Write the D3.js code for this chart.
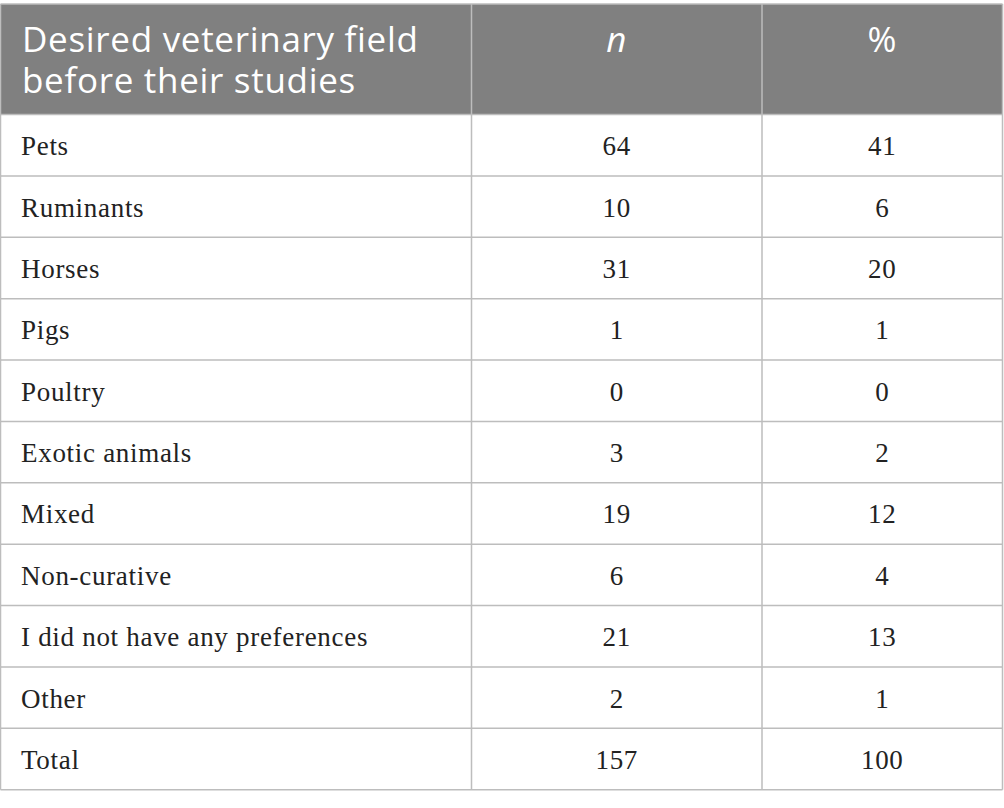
<!DOCTYPE html>
<html>
<head>
<meta charset="utf-8">
<script src="https://cdn.jsdelivr.net/npm/d3@7"></script>
<style>
  body { margin: 0; background: #fff; }
</style>
</head>
<body>
<div id="table"></div>
<script>
// data
const fields = ["Pets", "Ruminants", "Horses", "Pigs", "Poultry", "Exotic animals",
  "Mixed", "Non-curative", "I did not have any preferences", "Other", "Total"];
const counts = [64, 10, 31, 1, 0, 3, 19, 6, 21, 2, 157];
const percents = [41, 6, 20, 1, 0, 2, 12, 4, 13, 1, 100];
const headerLines = ["Desired veterinary field", "before their studies"];

const width = 1004;
const height = 808;
const tableTop = 4, headerBottom = 114.5, tableBottom = 789.7;
const colX = [0.5, 471.5, 762, 1002.5];
const lineColor = "#bdbdbd";

const svg = d3.select("#table").append("svg")
  .attr("width", width)
  .attr("height", height);

// rows
const y = d3.scaleBand()
  .domain(d3.range(fields.length))
  .range([headerBottom, tableBottom]);

// header background
svg.append("rect")
  .attr("x", colX[0]).attr("y", tableTop)
  .attr("width", colX[3] - colX[0]).attr("height", headerBottom - tableTop)
  .attr("fill", "#808080");

// header text
const head = svg.append("g")
  .attr("font-family", "'Open Sans', sans-serif")
  .attr("font-size", 35)
  .attr("letter-spacing", 0.7)
  .attr("fill", "#fff");

head.append("text")
  .attr("x", 22).attr("y", 52)
  .selectAll("tspan")
  .data(headerLines)
  .join("tspan")
  .attr("x", 22)
  .attr("dy", (d, i) => i === 0 ? 0 : 41)
  .text(d => d);

head.append("text")
  .attr("x", (colX[1] + colX[2]) / 2).attr("y", 52)
  .attr("text-anchor", "middle")
  .attr("font-style", "italic")
  .text("n");

head.append("text")
  .attr("x", (colX[2] + colX[3]) / 2).attr("y", 52)
  .attr("text-anchor", "middle")
  .text("%");

// body rows
const rows = svg.append("g")
  .attr("font-family", "'Liberation Serif', serif")
  .attr("font-size", 27)
  .attr("letter-spacing", 0.7)
  .attr("fill", "#222")
  .selectAll("g")
  .data(fields)
  .join("g")
  .attr("transform", (d, i) => `translate(0,${y(i) + y.bandwidth() / 2 + 10})`);

rows.append("text")
  .attr("x", 21)
  .text(d => d);

rows.append("text")
  .attr("x", (colX[1] + colX[2]) / 2)
  .attr("text-anchor", "middle")
  .text((d, i) => counts[i]);

rows.append("text")
  .attr("x", (colX[2] + colX[3]) / 2)
  .attr("text-anchor", "middle")
  .text((d, i) => percents[i]);

// grid lines
const grid = svg.append("g")
  .attr("stroke", lineColor)
  .attr("stroke-width", 1.5);

grid.selectAll("line.h")
  .data([tableTop, headerBottom].concat(d3.range(1, fields.length).map(i => y(i)), [tableBottom]))
  .join("line")
  .attr("class", "h")
  .attr("x1", colX[0]).attr("x2", colX[3])
  .attr("y1", d => d).attr("y2", d => d);

grid.selectAll("line.v")
  .data(colX)
  .join("line")
  .attr("class", "v")
  .attr("x1", d => d).attr("x2", d => d)
  .attr("y1", tableTop).attr("y2", tableBottom);
</script>
</body>
</html>
